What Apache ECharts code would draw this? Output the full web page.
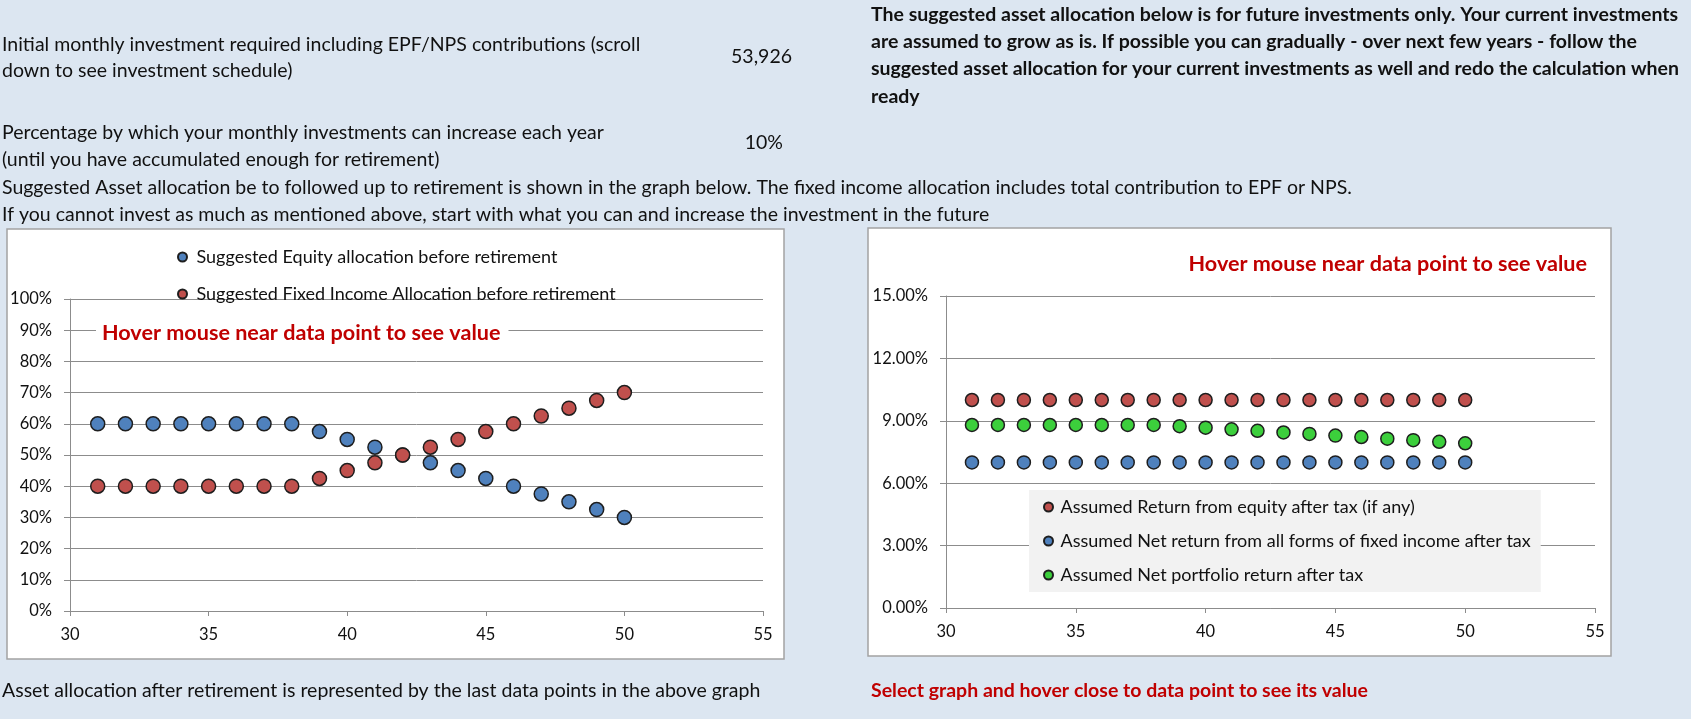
<!DOCTYPE html>
<html>
<head>
<meta charset="utf-8">
<title>Asset allocation</title>
<script src="https://cdn.jsdelivr.net/npm/echarts@6.0.0/dist/echarts.min.js"></script>
<style>
  html, body { margin: 0; padding: 0; background: #dce6f1; }
  #chart { width: 1691px; height: 719px; }
</style>
</head>
<body>
<div id="chart"></div>
<script>
// age on the x axis
const ages = [31, 32, 33, 34, 35, 36, 37, 38, 39, 40, 41, 42, 43, 44, 45, 46, 47, 48, 49, 50];

// left chart: allocation in %
const equityAlloc = [60, 60, 60, 60, 60, 60, 60, 60, 57.5, 55, 52.5, 50, 47.5, 45, 42.5, 40, 37.5, 35, 32.5, 30];
const fixedAlloc = [40, 40, 40, 40, 40, 40, 40, 40, 42.5, 45, 47.5, 50, 52.5, 55, 57.5, 60, 62.5, 65, 67.5, 70];

// right chart: returns in %
const equityReturn = [10, 10, 10, 10, 10, 10, 10, 10, 10, 10, 10, 10, 10, 10, 10, 10, 10, 10, 10, 10];
const fixedReturn = [7, 7, 7, 7, 7, 7, 7, 7, 7, 7, 7, 7, 7, 7, 7, 7, 7, 7, 7, 7];
const portfolioReturn = [8.8, 8.8, 8.8, 8.8, 8.8, 8.8, 8.8, 8.8, 8.74, 8.67, 8.59, 8.52, 8.44, 8.37, 8.29, 8.22, 8.14, 8.07, 7.99, 7.92];

const allocNames = ['Suggested Equity allocation before retirement', 'Suggested Fixed Income Allocation before retirement'];
const returnNames = ['Assumed Return from equity after tax (if any)', 'Assumed Net return from all forms of fixed income after tax', 'Assumed Net portfolio return after tax'];

const FONT = 'Lato, "Open Sans", sans-serif';
const BLUE = '#4f81bd', RED = '#c0504d', GREEN = '#3ccf3c', DARKRED = '#c00000';
const GRID = '#8c8c8c';

const pairs = (vals) => ages.map((a, i) => [a, vals[i]]);

function txt(x, y, text, opt) {
  opt = opt || {};
  return {
    type: 'text', x: x, y: y, z: opt.z || 5,
    style: {
      text: text,
      font: (opt.bold ? 'bold ' : '') + (opt.size || 19.5) + 'px ' + FONT,
      fill: opt.color || '#111',
      verticalAlign: 'middle',
      align: opt.align || 'left',
      backgroundColor: opt.bg,
      padding: opt.pad
    }
  };
}

function box(x, y, w, h) {
  return {
    type: 'rect', z: -10,
    shape: { x: x, y: y, width: w, height: h },
    style: { fill: '#fff', stroke: '#a3a3a3', lineWidth: 1.5 }
  };
}

const xAxisBase = {
  type: 'value', min: 30, max: 55, interval: 5,
  axisLine: { show: true, lineStyle: { color: GRID } },
  axisTick: { show: true, length: 5, lineStyle: { color: GRID } },
  splitLine: { show: false },
  axisLabel: { color: '#111', fontFamily: FONT, fontSize: 16.5, margin: 15 }
};
const yAxisBase = {
  type: 'value',
  axisLine: { show: true, lineStyle: { color: GRID } },
  axisTick: { show: true, length: 6, lineStyle: { color: GRID } },
  splitLine: { show: true, lineStyle: { color: GRID, width: 1 } },
  axisLabel: { color: '#111', fontFamily: FONT, fontSize: 16.5, margin: 18 }
};

function dots(name, vals, color, axis, size) {
  return {
    name: name, type: 'scatter', xAxisIndex: axis, yAxisIndex: axis,
    symbol: 'circle', symbolSize: size,
    itemStyle: { color: color, borderColor: '#1e1e1e', borderWidth: 1.5, opacity: 1 },
    data: pairs(vals)
  };
}

const chart = echarts.init(document.getElementById('chart'));
chart.setOption({
  backgroundColor: '#dce6f1',
  animation: false,
  grid: [
    { left: 70, top: 299, width: 693, height: 312 },
    { left: 946, top: 296, width: 649, height: 312 }
  ],
  xAxis: [
    Object.assign({ gridIndex: 0 }, xAxisBase),
    Object.assign({ gridIndex: 1 }, xAxisBase)
  ],
  yAxis: [
    Object.assign({}, yAxisBase, { gridIndex: 0, min: 0, max: 100, interval: 10,
      axisLabel: Object.assign({}, yAxisBase.axisLabel, { formatter: '{value}%' }) }),
    Object.assign({}, yAxisBase, { gridIndex: 1, min: 0, max: 15, interval: 3,
      axisLabel: Object.assign({}, yAxisBase.axisLabel, { formatter: (v) => v.toFixed(2) + '%' }) })
  ],
  legend: [
    {
      data: allocNames, orient: 'vertical', left: 177, top: 248, padding: 0,
      itemWidth: 18, itemHeight: 9, itemGap: 19, icon: 'circle',
      textStyle: { fontFamily: FONT, fontSize: 18, color: '#111', lineHeight: 18 }
    },
    {
      data: returnNames, orient: 'vertical', left: 1029, top: 490, padding: [8, 10, 8, 14],
      backgroundColor: '#f2f2f2',
      itemWidth: 14, itemHeight: 9, itemGap: 16, icon: 'circle',
      textStyle: { fontFamily: FONT, fontSize: 18, color: '#111', lineHeight: 18 }
    }
  ],
  series: [
    dots(allocNames[0], equityAlloc, BLUE, 0, 14),
    dots(allocNames[1], fixedAlloc, RED, 0, 14),
    dots(returnNames[0], equityReturn, RED, 1, 13),
    dots(returnNames[1], fixedReturn, BLUE, 1, 13),
    dots(returnNames[2], portfolioReturn, GREEN, 1, 13)
  ],
  graphic: [
    box(7, 229, 777, 430),
    box(868, 228, 743, 428),
    txt(2, 45, 'Initial monthly investment required including EPF/NPS contributions (scroll'),
    txt(2, 71, 'down to see investment schedule)'),
    txt(792, 57, '53,926', { align: 'right' }),
    txt(2, 133, 'Percentage by which your monthly investments can increase each year'),
    txt(2, 160, '(until you have accumulated enough for retirement)'),
    txt(783, 143, '10%', { align: 'right' }),
    txt(2, 188, 'Suggested Asset allocation be to followed up to retirement is shown in the graph below. The fixed income allocation includes total contribution to EPF or NPS.'),
    txt(2, 215, 'If you cannot invest as much as mentioned above, start with what you can and increase the investment in the future'),
    txt(871, 15, 'The suggested asset allocation below is for future investments only. Your current investments', { bold: true, size: 19.5 }),
    txt(871, 42, 'are assumed to grow as is. If possible you can gradually - over next few years - follow the', { bold: true, size: 19.5 }),
    txt(871, 69, 'suggested asset allocation for your current investments as well and redo the calculation when', { bold: true, size: 19.5 }),
    txt(871, 97, 'ready', { bold: true, size: 19.5 }),
    txt(96, 333, 'Hover mouse near data point to see value', { bold: true, size: 21.6, color: DARKRED, bg: '#fff', pad: [2, 8, 2, 6], z: 50 }),
    txt(1587, 264, 'Hover mouse near data point to see value', { bold: true, size: 21.6, color: DARKRED, align: 'right' }),
    txt(2, 691, 'Asset allocation after retirement is represented by the last data points in the above graph'),
    txt(871, 691, 'Select graph and hover close to data point to see its value', { bold: true, size: 19.5, color: DARKRED })
  ]
});
window.addEventListener('resize', () => chart.resize());
</script>
</body>
</html>
